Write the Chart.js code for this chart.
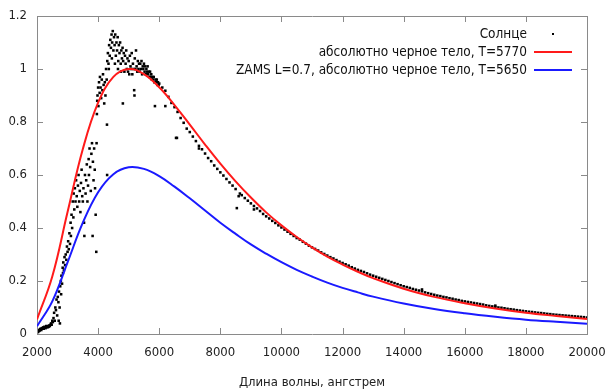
<!DOCTYPE html>
<html><head><meta charset="utf-8">
<script src="https://cdn.jsdelivr.net/npm/chart.js@4/dist/chart.umd.min.js"></script>
<style>html,body{margin:0;padding:0;background:#fff}#wrap{width:607px;height:390px}</style>
</head><body><div id="wrap"><canvas id="c" width="607" height="390"></canvas></div>
<script>
// ---- data ----
const seriesLabels = ["Солнце", "абсолютно черное тело, T=5770", "ZAMS L=0.7, абсолютно черное тело, T=5650"];
const xTitle = "Длина волны, ангстрем";
const xTicks = [2000,4000,6000,8000,10000,12000,14000,16000,18000,20000];
const yTicks = [0,0.2,0.4,0.6,0.8,1,1.2];

const curveWavelengths = [2000,2500,3000,3500,4000,4500,5000,5500,6000,6500,7000,7500,8000,8500,9000,9500,10000,10500,11000,11500,12000,12500,13000,14000,15000,16000,17000,18000,19000,20000];
const bb5770 = [0.055,0.217,0.460,0.698,0.873,0.970,1.000,0.981,0.931,0.864,0.790,0.715,0.643,0.576,0.515,0.459,0.410,0.366,0.327,0.292,0.262,0.235,0.211,0.171,0.140,0.116,0.096,0.080,0.068,0.057];
const bb5650 = [0.029,0.123,0.270,0.420,0.535,0.603,0.629,0.623,0.596,0.556,0.512,0.466,0.420,0.378,0.338,0.303,0.271,0.242,0.217,0.194,0.174,0.157,0.141,0.115,0.094,0.078,0.065,0.054,0.046,0.039];

const sunWavelengths = [
2000,2020,2040,2060,2080,2100,2120,2140,2160,2180,2200,2220,2240,2260,2280,2300,2320,2340,2360,2380,2400,2420,2440,2460,2480,2500,2520,2540,2560,2580,2600,2620,2640,2660,2680,2700,2710,2720,2740,2750,2760,2780,2790,2800,2820,2840,2850,2860,2880,2900,2920,2940,2960,2980,3000,3020,3040,3060,3080,3100,3110,3130,3150,3170,3190,3200,3220,3240,3260,3280,3300,3320,3340,3360,3380,3400,3420,3440,3460,3480,3500,3520,3540,3550,3570,3590,3610,3630,3650,3670,3690,3700,3720,3740,3760,3780,3800,3820,3830,3850,3870,3890,3900,3920,3940,3950,3960,3970,3980,4000,4010,4030,4050,4060,4080,4100,4120,4140,4160,4180,4200,4220,4240,4260,4280,4290,4295,4300,4320,4340,4350,4360,4380,4400,4420,4440,4450,4460,4480,4500,4520,4540,4550,4560,4580,4600,4620,4640,4650,4660,4680,4700,4720,4740,4750,4760,4780,4800,4810,4820,4840,4860,4880,4900,4920,4940,4960,4980,5000,5020,5040,5060,5080,5100,5120,5140,5160,5180,5190,5200,5220,5240,5260,5280,5300,5320,5340,5360,5380,5400,5420,5440,5460,5480,5500,5520,5540,5560,5580,5600,5620,5640,5660,5680,5700,5720,5740,5760,5780,5800,5820,5840,5860,5880,5900,5920,5940,5960,5980,
6000,6100,6200,6200,6300,6400,6500,6550,6580,6600,6700,6800,6900,7000,7100,7200,7300,7300,7400,7500,7600,7700,7800,7900,8000,8100,8200,8300,8400,8500,8540,8600,8640,8700,8800,8900,9000,9100,9100,9200,9300,9400,9500,9600,9700,9800,9900,10000,
10100,10200,10300,10400,10500,10600,10700,10800,10900,11000,11100,11200,11300,11400,11500,11600,11700,11800,11900,12000,12100,12200,12300,12400,12500,12600,12700,12800,12900,13000,13100,13200,13300,13400,13500,13600,13700,13800,13900,14000,14100,14200,14300,14400,14500,14600,14600,14700,14800,14900,15000,
15100,15200,15300,15400,15500,15600,15700,15800,15900,16000,16100,16200,16300,16400,16500,16600,16700,16800,16900,17000,17000,17100,17200,17300,17400,17500,17600,17700,17800,17900,18000,18100,18200,18300,18400,18500,18600,18700,18800,18900,19000,19100,19200,19300,19400,19500,19600,19700,19800,19900,20000];
const sunFlux = [
0.005,0.010,0.008,0.015,0.012,0.018,0.020,0.015,0.022,0.020,0.025,0.020,0.027,0.025,0.022,0.030,0.028,0.025,0.030,0.027,0.032,0.030,0.035,0.040,0.035,0.050,0.045,0.060,0.080,0.050,0.100,0.090,0.130,0.070,0.140,0.120,0.050,0.160,0.100,0.040,0.180,0.200,0.150,0.220,0.190,0.250,0.230,0.270,0.240,0.290,0.260,0.300,0.280,0.330,0.310,0.350,0.320,0.380,0.340,0.420,0.370,0.450,0.400,0.500,0.440,0.530,0.470,0.550,0.500,0.580,0.520,0.480,0.560,0.600,0.500,0.540,0.460,0.570,0.620,0.520,0.500,0.550,0.420,0.370,0.600,0.530,0.580,0.640,0.500,0.560,0.660,0.600,0.700,0.630,0.540,0.680,0.720,0.370,0.650,0.580,0.700,0.620,0.550,0.450,0.310,0.720,0.830,0.880,0.900,0.930,0.860,0.950,0.910,0.970,0.930,0.890,0.960,0.920,0.980,0.940,0.870,0.950,0.900,1.000,0.960,0.790,0.600,1.030,1.060,1.020,1.000,1.090,1.050,1.110,1.080,1.130,1.040,1.100,1.143,1.070,1.120,1.090,1.020,1.130,1.050,1.100,1.070,1.120,1.000,1.030,1.090,1.060,1.100,1.020,0.990,1.070,1.040,1.080,0.870,1.030,1.060,0.990,1.050,1.020,1.070,1.000,1.040,0.990,1.030,0.980,1.050,1.010,1.000,1.060,0.980,1.020,1.000,0.920,0.900,1.040,1.000,1.070,1.010,0.990,1.030,1.000,1.020,0.990,1.020,1.000,1.030,0.980,1.010,1.000,1.020,0.990,1.010,0.980,1.000,0.990,1.010,0.980,0.990,0.970,0.990,0.970,0.980,0.960,0.970,0.960,0.970,0.950,0.860,0.960,0.950,0.960,0.940,0.950,0.940,
0.945,0.930,0.918,0.860,0.895,0.872,0.856,0.740,0.740,0.838,0.815,0.797,0.775,0.762,0.745,0.728,0.710,0.700,0.697,0.681,0.664,0.652,0.636,0.623,0.610,0.598,0.585,0.572,0.560,0.547,0.475,0.520,0.530,0.524,0.513,0.503,0.493,0.483,0.470,0.474,0.464,0.453,0.444,0.436,0.427,0.419,0.410,0.402,
0.394,0.386,0.378,0.370,0.362,0.356,0.348,0.341,0.333,0.327,0.321,0.315,0.308,0.302,0.296,0.290,0.285,0.279,0.273,0.268,0.263,0.258,0.252,0.247,0.242,0.238,0.234,0.229,0.224,0.220,0.216,0.212,0.208,0.204,0.200,0.196,0.192,0.188,0.184,0.180,0.177,0.174,0.170,0.167,0.164,0.161,0.168,0.157,0.154,0.151,0.148,
0.145,0.143,0.140,0.138,0.135,0.133,0.130,0.128,0.125,0.123,0.121,0.119,0.117,0.115,0.113,0.111,0.108,0.106,0.104,0.102,0.107,0.100,0.099,0.097,0.095,0.0935,0.092,0.090,0.0885,0.087,0.0855,0.084,0.083,0.0815,0.080,0.079,0.0775,0.076,0.075,0.0735,0.0725,0.0715,0.0705,0.0695,0.0685,0.0675,0.0665,0.0655,0.0645,0.0635,0.0625];

// ---- build ----
const FONT = "'DejaVu Sans Condensed','DejaVu Sans',sans-serif";
const toXY = (xs, ys) => xs.map((x, i) => ({x: x, y: ys[i]}));
const RED = '#ff1a1a', BLUE = '#1a1aff';
const FRAME = '#8a8a8a';
const edge = {display: true, color: FRAME, width: 1};
const noPad = s => { s.paddingLeft = 0; s.paddingRight = 0; s.paddingTop = 0; s.paddingBottom = 0; };

const decorPlugin = {
  id: 'decor',
  afterDraw(chart) {
    const ctx = chart.ctx, a = chart.chartArea;
    const sx = chart.scales.x, sy = chart.scales.y;
    const l = Math.round(a.left), r = Math.round(a.right), t = Math.round(a.top), b = Math.round(a.bottom);
    ctx.save();
    ctx.fillStyle = FRAME;
    const L = 6;
    xTicks.forEach(v => {
      const px = Math.round(sx.getPixelForValue(v));
      ctx.fillRect(px, b - L, 1, L);
      ctx.fillRect(px, t, 1, L);
    });
    yTicks.forEach(v => {
      const py = Math.round(sy.getPixelForValue(v));
      ctx.fillRect(l, py, L, 1);
      ctx.fillRect(r - L, py, L, 1);
    });
    // key
    ctx.font = '13.5px ' + FONT;
    ctx.textAlign = 'right';
    ctx.textBaseline = 'middle';
    const textRight = 527, s0 = 534, s1 = 572, rows = [34, 52, 70];
    chart.data.datasets.forEach((ds, i) => {
      ctx.fillStyle = '#111';
      ctx.fillText(ds.label, textRight, rows[i]);
      if (i === 0) {
        ctx.fillStyle = '#000';
        ctx.fillRect(552, rows[i] - 1, 2, 2);
      } else {
        ctx.fillStyle = ds.borderColor;
        ctx.fillRect(s0, rows[i] - 1, s1 - s0, 2);
      }
    });
    ctx.restore();
  }
};

new Chart(document.getElementById('c'), {
  type: 'scatter',
  data: {
    datasets: [
      {label: seriesLabels[0], data: toXY(sunWavelengths, sunFlux), pointRadius: 1.8, pointHoverRadius: 1.8,
       pointBackgroundColor: '#000', pointBorderWidth: 0, pointStyle: 'rect', order: 3},
      {label: seriesLabels[1], data: toXY(curveWavelengths, bb5770), showLine: true, borderColor: RED, borderWidth: 2,
       pointRadius: 0, tension: 0.4, order: 2},
      {label: seriesLabels[2], data: toXY(curveWavelengths, bb5650), showLine: true, borderColor: BLUE, borderWidth: 2,
       pointRadius: 0, tension: 0.4, order: 1}
    ]
  },
  options: {
    responsive: false, animation: false,
    layout: {padding: {left: 0, top: 16, right: 20, bottom: 0}},
    plugins: {legend: {display: false}, tooltip: {enabled: false}},
    scales: {
      x: {
        type: 'linear', position: 'bottom', min: 2000, max: 20000,
        afterBuildTicks: s => { s.ticks = xTicks.map(v => ({value: v})); },
        grid: {display: false, drawTicks: false}, border: edge,
        ticks: {font: {family: FONT, size: 13}, color: '#222', padding: 11, maxRotation: 0, autoSkip: false,
                callback: v => String(v)},
        title: {display: true, text: xTitle, font: {family: FONT, size: 13}, color: '#222', padding: {top: 0, bottom: 0}},
        afterFit: s => { s.height = 56; noPad(s); }
      },
      y: {
        type: 'linear', position: 'left', min: 0, max: 1.2,
        afterBuildTicks: s => { s.ticks = yTicks.map(v => ({value: v})); },
        grid: {display: false, drawTicks: false}, border: edge,
        ticks: {font: {family: FONT, size: 13}, color: '#222', padding: 10, autoSkip: false,
                callback: v => String(Math.round(v * 10) / 10)},
        afterFit: s => { s.width = 37; noPad(s); }
      },
      xTop: {
        type: 'linear', position: 'top', display: true, min: 2000, max: 20000,
        grid: {display: false, drawTicks: false}, border: edge, ticks: {display: false},
        afterFit: s => { s.height = 0; noPad(s); }
      },
      yRight: {
        type: 'linear', position: 'right', display: true, min: 0, max: 1.2,
        grid: {display: false, drawTicks: false}, border: edge, ticks: {display: false},
        afterFit: s => { s.width = 0; noPad(s); }
      }
    }
  },
  plugins: [decorPlugin]
});
</script></body></html>
